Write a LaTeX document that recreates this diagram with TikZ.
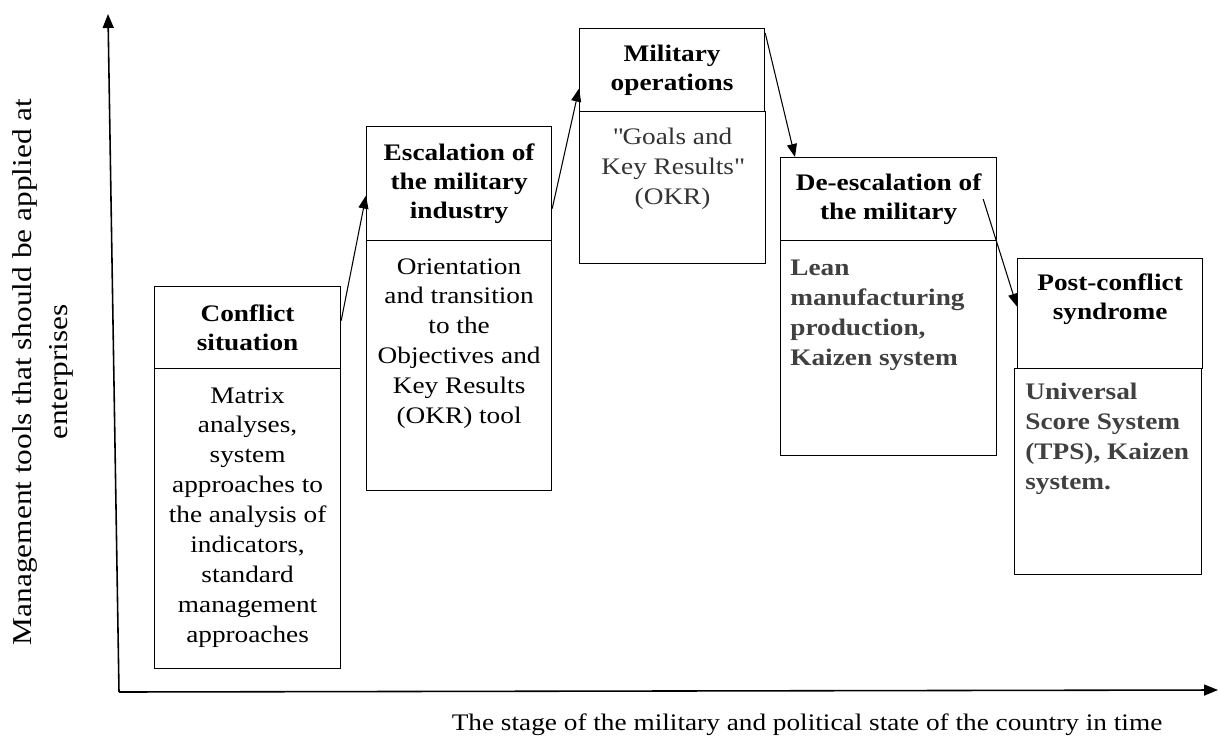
\documentclass[tikz,border=0pt]{standalone}
\usepackage{fontspec}
\setmainfont{Liberation Serif}[FakeStretch=1.15]
\usetikzlibrary{arrows.meta,positioning}

\begin{document}
\begin{tikzpicture}[
  x=0.02cm, y=-0.02cm,
  headbox/.style={
    rectangle, draw=black, line width=0.7pt, anchor=north west,
    inner sep=0pt, align=center, font=\fontsize{13.5}{16.5}\selectfont\bfseries
  },
  bodybox/.style={rectangle, draw=black, line width=0.7pt, anchor=north west, inner sep=0pt},
  bodytxt/.style={inner sep=0pt, font=\fontsize{13.5}{17}\selectfont},
  leantxt/.style={bodytxt, align=left, text=black!75, font=\fontsize{13.5}{17}\selectfont\bfseries},
  arrow/.style={-{Triangle[length=2.6mm,width=2mm]}, line width=0.6pt},
  axis/.style={-{Triangle[length=2.8mm,width=2.2mm]}, line width=0.9pt},
  lbl/.style={inner sep=0pt, font=\fontsize{13.5}{17}\selectfont}
]
\useasboundingbox (0,0) rectangle (1219,740);

% Axes
\coordinate (origin) at (119,692);
\coordinate (ytop) at (108,14);
\coordinate (xend) at (1218,690);
\draw[axis] (origin) -- (ytop);
\draw[axis] (origin) -- (xend);

% Stages - header boxes
\node[headbox, minimum width=3.72cm, minimum height=1.64cm] (conflict) at (154,286) {Conflict\\situation};
\node[headbox, minimum width=3.70cm, minimum height=2.28cm] (escalation) at (366,126) {Escalation of\\the military\\industry};
\node[headbox, minimum width=3.70cm, minimum height=1.66cm] (military) at (579,28) {Military\\operations};
\node[headbox, minimum width=4.32cm, minimum height=1.66cm] (deesc) at (780,157) {De-escalation of\\the military};
\node[headbox, minimum width=3.70cm, minimum height=2.20cm, text depth=0.66cm] (postconf) at (1017,258) {Post-conflict\\syndrome};

% Stages - tool boxes
\node[bodybox, minimum width=3.72cm, minimum height=6.00cm] (conflict-body) at (154,368) {};
\node[bodybox, minimum width=3.70cm, minimum height=5.00cm] (escalation-body) at (366,240) {};
\node[bodybox, minimum width=3.72cm, minimum height=3.04cm] (military-body) at (579,111) {};
\node[bodybox, minimum width=4.32cm, minimum height=4.30cm] (deesc-body) at (780,240) {};
\node[bodybox, minimum width=3.74cm, minimum height=4.12cm] (postconf-body) at (1014,368) {};

% Tool texts
\node[bodytxt, align=center, below=0.38cm of conflict-body.north] (conflict-txt)
  {Matrix\\analyses,\\system\\approaches to\\the analysis of\\indicators,\\standard\\management\\approaches};
\node[bodytxt, align=center, below=0.36cm of escalation-body.north] (escalation-txt)
  {Orientation\\and transition\\to the\\Objectives and\\Key Results\\(OKR) tool};
\node[bodytxt, align=center, text=black!80, below=0.34cm of military-body.north] (military-txt)
  {\textquotedbl Goals and\\Key Results\textquotedbl\\(OKR)};
\node[leantxt, below right=0.4cm and 0.2cm of deesc-body.north west] (deesc-txt)
  {Lean\\manufacturing\\production,\\Kaizen system};
\node[leantxt, below right=0.3cm and 0.22cm of postconf-body.north west] (postconf-txt)
  {Universal\\Score System\\(TPS), Kaizen\\system.};

% Arrows between stages
\draw[arrow] ([yshift=0.14cm]conflict.east) -- ([yshift=-0.24cm]escalation.west);
\draw[arrow] ([yshift=-0.5cm]escalation.east) -- ([yshift=-0.37cm]military.west);
\draw[arrow] ([yshift=-0.1cm]military.north east) -- ([xshift=0.3cm]deesc.north west);
\draw[arrow] ([xshift=-0.28cm]deesc.east) -- ([yshift=0.14cm]postconf.west);

% Axis labels
\node[lbl, rotate=90, align=center, font=\fontsize{15.5}{21}\selectfont] (ylabel) at (43,372)
  {Management tools that should be applied at\\enterprises};
\node[lbl] (xlabel) at (807,725) {The stage of the military and political state of the country in time};

\end{tikzpicture}
\end{document}
